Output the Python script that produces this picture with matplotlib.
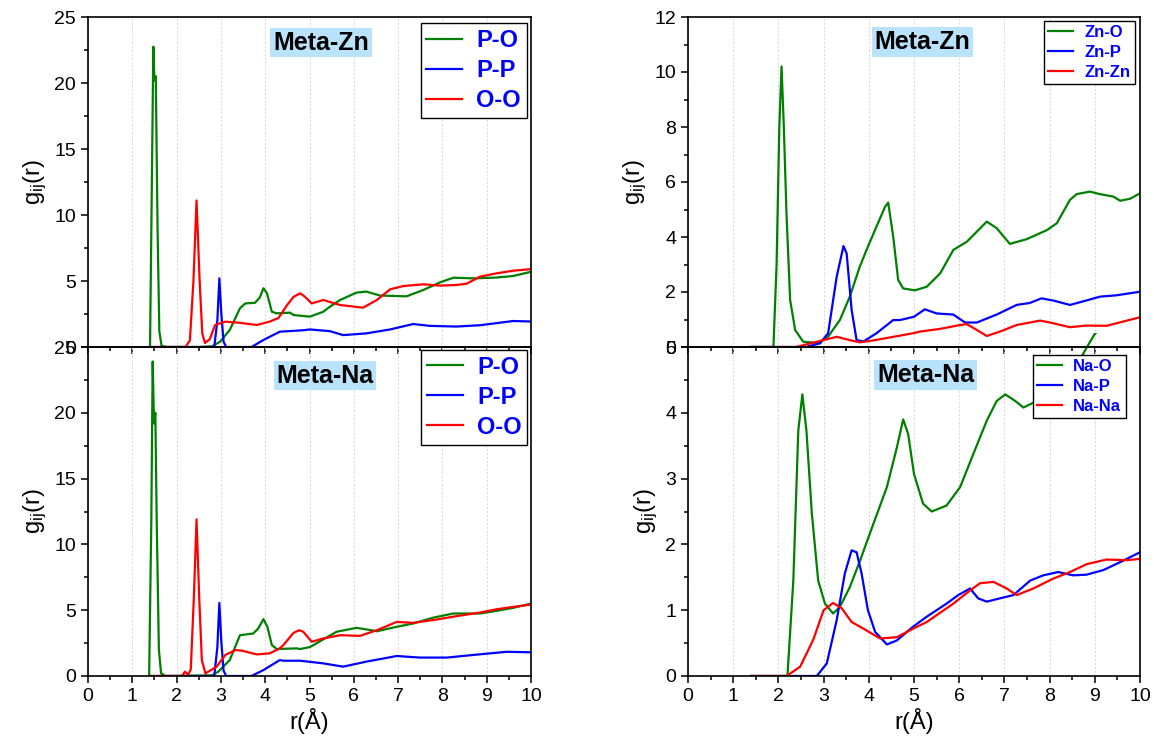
import matplotlib
matplotlib.use("Agg")
import matplotlib.pyplot as plt
from matplotlib.patches import Rectangle
from matplotlib.ticker import MultipleLocator

plt.rcParams['font.family'] = ['Liberation Sans', 'DejaVu Sans']
plt.rcParams['mathtext.fontset'] = 'custom'
plt.rcParams['mathtext.rm'] = 'Liberation Sans'
plt.rcParams['mathtext.default'] = 'regular'

# ---- Meta-Zn, left panel (P-O, P-P, O-O)
r_zn_po = [1.4, 1.44, 1.475, 1.5, 1.53, 1.57, 1.61, 1.66, 1.75, 2.5, 2.8, 2.98, 3.2, 3.43, 3.55, 3.77, 3.88, 3.96,
           4.04, 4.15, 4.26, 4.56, 4.64, 5.01, 5.31, 5.46, 5.69, 6.06, 6.28, 6.59, 6.97, 7.19, 7.57, 7.95, 8.25,
           8.7, 9.22, 9.6, 10.0]
g_zn_po = [0, 12, 22.75, 20.2, 20.5, 9, 1.2, 0.1, 0, 0, 0.05, 0.4, 1.29, 2.93, 3.3, 3.35, 3.76, 4.45,
           4.07, 2.67, 2.55, 2.6, 2.42, 2.3, 2.67, 3.05, 3.56, 4.12, 4.2, 3.9, 3.86, 3.84, 4.32, 4.9, 5.25,
           5.2, 5.26, 5.38, 5.7]
r_zn_pp = [1.4, 2.85, 2.92, 2.965, 3.01, 3.06, 3.12, 3.69, 3.96, 4.33, 4.86, 5.01, 5.46, 5.76, 6.28, 6.82,
           7.34, 7.72, 8.32, 8.85, 9.6, 10.0]
g_zn_pp = [0, 0, 2.0, 5.2, 2.5, 0.4, 0, 0, 0.53, 1.16, 1.27, 1.33, 1.2, 0.9, 1.03, 1.33,
           1.74, 1.6, 1.55, 1.65, 1.97, 1.93]
r_zn_oo = [1.4, 2.2, 2.3, 2.38, 2.45, 2.52, 2.58, 2.64, 2.75, 2.87, 3.1, 3.4, 3.81, 4.1, 4.3, 4.5, 4.64, 4.79,
           4.9, 5.05, 5.31, 5.69, 6.21, 6.52, 6.82, 7.12, 7.57, 7.95, 8.32, 8.55, 8.85, 9.22, 9.6, 10.0]
g_zn_oo = [0, 0, 0.5, 5, 11.1, 5, 1.0, 0.3, 0.6, 1.67, 1.92, 1.84, 1.67, 1.92, 2.2, 3.2, 3.8, 4.07,
           3.8, 3.3, 3.56, 3.18, 2.98, 3.56, 4.37, 4.62, 4.75, 4.65, 4.7, 4.8, 5.33, 5.58, 5.78, 5.9]

# ---- Meta-Na, left panel
r_na_po = [1.38, 1.43, 1.46, 1.49, 1.52, 1.55, 1.6, 1.65, 1.75, 2.8, 2.94, 3.2, 3.43, 3.73, 3.84, 3.96, 4.05,
           4.15, 4.26, 4.71, 4.79, 5.01, 5.09, 5.61, 6.06, 6.28, 6.52, 6.97, 7.34, 7.8, 8.25, 8.85, 9.22,
           9.6, 10.0]
g_na_po = [0, 12, 23.9, 19.2, 20.0, 12, 2, 0.2, 0, 0.05, 0.33, 1.21, 3.1, 3.23, 3.6, 4.32, 3.73,
           2.35, 2.05, 2.1, 2.05, 2.2, 2.35, 3.36, 3.66, 3.54, 3.4, 3.74, 3.99, 4.44, 4.75, 4.75, 4.95,
           5.18, 5.5]
r_na_pp = [1.4, 2.85, 2.92, 2.965, 3.01, 3.06, 3.12, 3.69, 3.96, 4.33, 4.41, 4.79, 5.31, 5.76, 6.28, 6.97,
           7.49, 8.1, 8.7, 9.45, 10.0]
g_na_pp = [0, 0, 2.2, 5.55, 2.6, 0.4, 0, 0, 0.45, 1.21, 1.16, 1.16, 0.96, 0.71, 1.09, 1.52,
           1.4, 1.4, 1.6, 1.84, 1.8]
r_na_oo = [1.4, 2.12, 2.19, 2.26, 2.32, 2.39, 2.45, 2.51, 2.57, 2.65, 2.9, 3.1, 3.33, 3.48, 3.81, 4.1, 4.33,
           4.41, 4.64, 4.77, 4.86, 5.05, 5.31, 5.69, 6.14, 6.52, 6.97, 7.34, 7.87, 8.32, 8.85, 9.22, 9.6, 10.0]
g_na_oo = [0, 0, 0.33, 0.1, 0.5, 6, 11.9, 6, 1.2, 0.2, 0.7, 1.6, 1.97, 1.92, 1.64, 1.72, 2.1,
           2.35, 3.28, 3.48, 3.36, 2.6, 2.85, 3.1, 3.05, 3.48, 4.11, 4.04, 4.29, 4.55, 4.82, 5.07, 5.25, 5.43]

# ---- Meta-Zn, right panel (Zn-O, Zn-P, Zn-Zn)
r_zno = [1.4, 1.89, 1.96, 2.02, 2.07, 2.12, 2.18, 2.26, 2.37, 2.55, 2.85, 3.07, 3.36, 3.58, 3.8, 3.95, 4.17,
         4.36, 4.43, 4.54, 4.65, 4.76, 5.02, 5.28, 5.58, 5.87, 6.17, 6.61, 6.83, 7.12, 7.49, 7.94, 8.16, 8.45,
         8.6, 8.89, 9.11, 9.41, 9.56, 9.78, 10.0]
g_zno = [0, 0, 3, 8, 10.2, 8, 4.8, 1.71, 0.62, 0.19, 0.15, 0.31, 0.98, 1.83, 2.92, 3.53, 4.38,
         5.1, 5.25, 4.01, 2.44, 2.13, 2.06, 2.19, 2.68, 3.53, 3.83, 4.56, 4.32, 3.75, 3.92, 4.25, 4.5, 5.35,
         5.56, 5.65, 5.56, 5.47, 5.32, 5.39, 5.59]
r_znp = [1.4, 2.6, 2.92, 3.1, 3.29, 3.44, 3.51, 3.62, 3.73, 3.88, 4.17, 4.54, 4.69, 5.0, 5.24, 5.5, 5.87, 6.13,
         6.39, 6.83, 7.27, 7.56, 7.82, 8.08, 8.45, 8.81, 9.11, 9.48, 10.0]
g_znp = [0, 0, 0.13, 0.5, 2.56, 3.67, 3.4, 1.35, 0.25, 0.2, 0.5, 0.98, 0.98, 1.1, 1.37, 1.22, 1.18, 0.89,
         0.89, 1.18, 1.53, 1.6, 1.77, 1.69, 1.53, 1.69, 1.83, 1.88, 2.01]
r_znzn = [1.4, 2.4, 2.63, 2.92, 3.29, 3.58, 3.8, 4.1, 4.54, 4.98, 5.13, 5.58, 6.02, 6.17, 6.39, 6.61, 6.9, 7.27,
          7.79, 8.01, 8.45, 8.81, 9.26, 9.71, 10.0]
g_znzn = [0, 0, 0.1, 0.22, 0.37, 0.25, 0.17, 0.24, 0.37, 0.5, 0.56, 0.66, 0.8, 0.83, 0.62, 0.4, 0.56, 0.8,
          0.96, 0.89, 0.72, 0.78, 0.77, 0.96, 1.08]

# ---- Meta-Na, right panel (Na-O, Na-P, Na-Na)
r_nao = [1.4, 2.2, 2.33, 2.44, 2.53, 2.62, 2.74, 2.88, 3.03, 3.21, 3.36, 3.58, 3.81, 4.1, 4.4, 4.62, 4.76, 4.87,
         5.0, 5.2, 5.39, 5.72, 6.02, 6.31, 6.61, 6.83, 7.02, 7.24, 7.42, 7.72, 8.1, 8.5, 8.82, 9.0, 9.5, 10.0]
g_nao = [0, 0, 1.45, 3.73, 4.28, 3.73, 2.47, 1.45, 1.1, 0.95, 1.05, 1.35, 1.76, 2.31, 2.87, 3.47, 3.9, 3.68,
         3.07, 2.62, 2.5, 2.59, 2.87, 3.37, 3.88, 4.18, 4.28, 4.18, 4.08, 4.18, 4.3, 4.6, 4.99, 5.2, 5.5, 5.6]
r_nap = [1.4, 2.85, 3.07, 3.29, 3.47, 3.62, 3.73, 3.84, 3.98, 4.14, 4.4, 4.62, 4.98, 5.28, 5.72, 5.98, 6.24,
         6.42, 6.61, 6.9, 7.2, 7.57, 7.86, 8.19, 8.52, 8.82, 9.19, 9.56, 10.0]
g_nap = [0, 0, 0.19, 0.85, 1.56, 1.91, 1.88, 1.56, 1.0, 0.67, 0.48, 0.54, 0.75, 0.9, 1.1, 1.23, 1.33,
         1.18, 1.13, 1.18, 1.23, 1.45, 1.53, 1.58, 1.53, 1.54, 1.61, 1.73, 1.88]
r_nana = [1.4, 2.18, 2.48, 2.77, 3.0, 3.21, 3.4, 3.62, 3.88, 4.25, 4.62, 4.98, 5.28, 5.87, 6.24, 6.46, 6.76,
          7.05, 7.27, 7.64, 8.08, 8.45, 8.82, 9.26, 9.71, 10.0]
g_nana = [0, 0, 0.14, 0.55, 1.0, 1.11, 1.03, 0.82, 0.72, 0.57, 0.59, 0.72, 0.82, 1.1, 1.3, 1.41, 1.43,
          1.33, 1.23, 1.33, 1.48, 1.58, 1.7, 1.77, 1.76, 1.78]

GREEN = '#008000'
BLUE = '#0000ff'
RED = '#ff0000'
LW = 1.6


def style(ax, ymax, ymaj, ymin, bottom):
    ax.set_xlim(0, 10)
    ax.set_ylim(0, ymax)
    ax.xaxis.set_major_locator(MultipleLocator(1))
    ax.xaxis.set_minor_locator(MultipleLocator(0.5))
    ax.yaxis.set_major_locator(MultipleLocator(ymaj))
    ax.yaxis.set_minor_locator(MultipleLocator(ymin))
    ax.tick_params(which='both', direction='out', top=False, right=False, labelsize=14, width=1.1)
    ax.tick_params(which='major', length=5)
    ax.tick_params(which='minor', length=3)
    ax.grid(axis='x', which='major', color='#d6d6d6', linestyle=(0, (2, 2)), linewidth=0.7)
    for s in ax.spines.values():
        s.set_linewidth(1.2)
    ax.set_ylabel('g$_{ij}$(r)', fontsize=17)
    if bottom:
        ax.set_xlabel('r(Å)', fontsize=17, labelpad=2)
    else:
        ax.tick_params(axis='x', labelbottom=False)


def tag(ax, text, x, y):
    ax.text(x, y, text, transform=ax.transAxes, ha='center', va='center', fontsize=18,
            fontweight='bold', bbox=dict(facecolor='#b9e3fb', edgecolor='none', pad=2))


def legend(ax, size, anchor, spacing, hpad):
    leg = ax.legend(loc='upper right', bbox_to_anchor=anchor, prop={'weight': 'bold', 'size': size},
                    labelcolor=BLUE, frameon=True, fancybox=False, framealpha=1, edgecolor='black',
                    handlelength=1.5, handletextpad=hpad, borderpad=0.25, labelspacing=spacing,
                    borderaxespad=0)
    leg.get_frame().set_linewidth(1.0)


fig = plt.figure(figsize=(11.54, 7.4), dpi=100)
W, H = 1154, 740
ax_tl = fig.add_axes([88 / W, 1 - 347 / H, 443 / W, 330 / H])
ax_tr = fig.add_axes([688 / W, 1 - 347 / H, 452 / W, 330 / H])
ax_bl = fig.add_axes([88 / W, 1 - 676 / H, 443 / W, 329 / H])
ax_br = fig.add_axes([688 / W, 1 - 676 / H, 452 / W, 329 / H])
ax_bl.patch.set_alpha(0)
ax_br.patch.set_alpha(0)

# top left: Meta-Zn
ax_tl.plot(r_zn_po, g_zn_po, color=GREEN, lw=LW, label='P-O')
ax_tl.plot(r_zn_pp, g_zn_pp, color=BLUE, lw=LW, label='P-P')
ax_tl.plot(r_zn_oo, g_zn_oo, color=RED, lw=LW, label='O-O')
style(ax_tl, 25, 5, 2.5, False)
tag(ax_tl, 'Meta-Zn', 0.526, 0.922)
legend(ax_tl, 17, (0.99, 0.982), 0.3, 0.6)

# bottom left: Meta-Na
ax_bl.plot(r_na_po, g_na_po, color=GREEN, lw=LW, label='P-O')
ax_bl.plot(r_na_pp, g_na_pp, color=BLUE, lw=LW, label='P-P')
ax_bl.plot(r_na_oo, g_na_oo, color=RED, lw=LW, label='O-O')
style(ax_bl, 25, 5, 2.5, True)
tag(ax_bl, 'Meta-Na', 0.535, 0.913)
legend(ax_bl, 17, (0.992, 0.992), 0.3, 0.6)

# top right: Meta-Zn
ax_tr.plot(r_zno, g_zno, color=GREEN, lw=LW, label='Zn-O')
ax_tr.plot(r_znp, g_znp, color=BLUE, lw=LW, label='Zn-P')
ax_tr.plot(r_znzn, g_znzn, color=RED, lw=LW, label='Zn-Zn')
style(ax_tr, 12, 2, 1, False)
tag(ax_tr, 'Meta-Zn', 0.518, 0.925)
legend(ax_tr, 12, (0.988, 0.988), 0.3, 0.7)

# bottom right: Meta-Na (Na-O runs a little past the top of the frame)
line, = ax_br.plot(r_nao, g_nao, color=GREEN, lw=LW, label='Na-O')
line.set_clip_path(Rectangle((0, 0), 10, 5.22, transform=ax_br.transData))
ax_br.plot(r_nap, g_nap, color=BLUE, lw=LW, label='Na-P')
ax_br.plot(r_nana, g_nana, color=RED, lw=LW, label='Na-Na')
style(ax_br, 5, 1, 0.5, True)
tag(ax_br, 'Meta-Na', 0.526, 0.915)
legend(ax_br, 12, (0.968, 0.977), 0.3, 0.7)

fig.savefig('out.png', dpi=100)
